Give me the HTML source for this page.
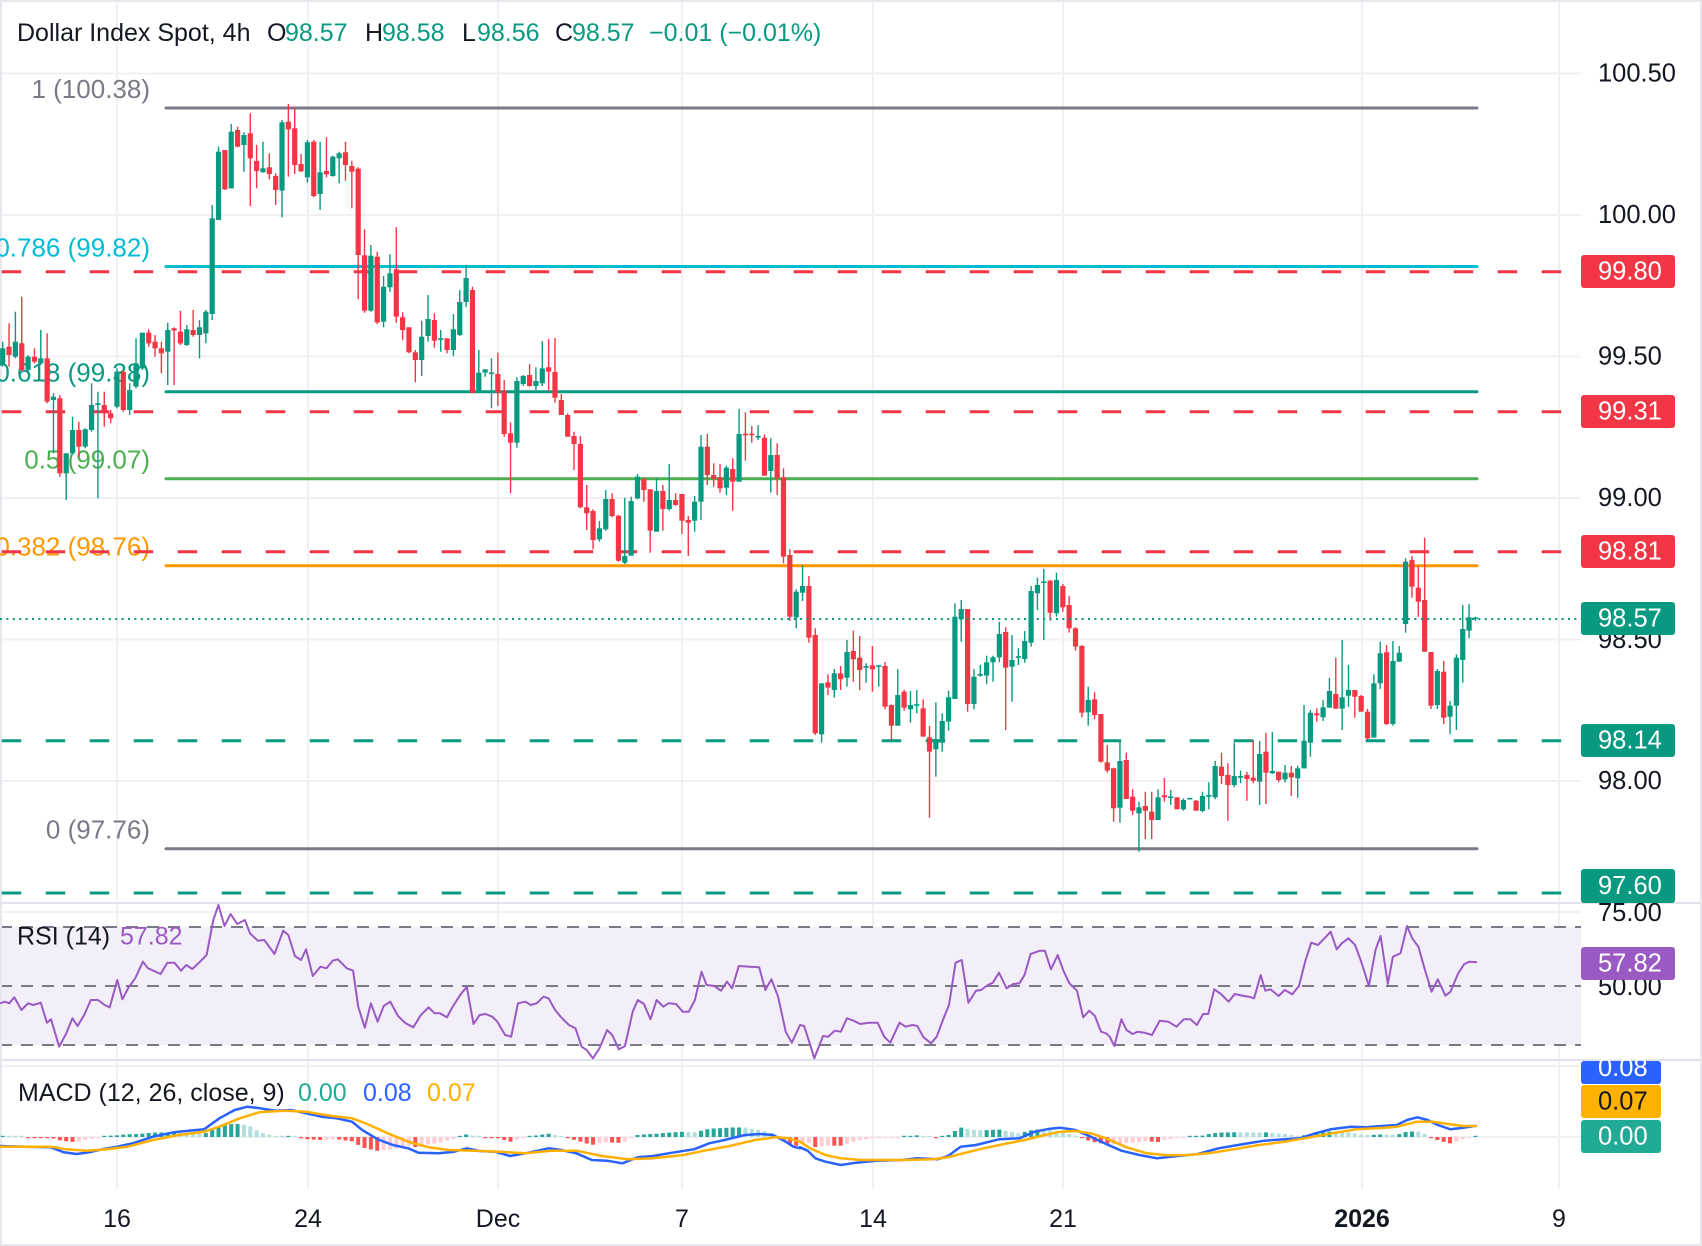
<!DOCTYPE html>
<html><head><meta charset="utf-8"><style>
html,body{margin:0;padding:0;background:#fff;}
svg{display:block;}
text{font-family:"Liberation Sans",Arial,sans-serif;}
</style></head><body>
<svg id="c" width="1702" height="1246" xmlns="http://www.w3.org/2000/svg">
<rect width="1702" height="1246" fill="#fff"/>
<g stroke="#f0f1f4" stroke-width="2">
<line x1="117" y1="0" x2="117" y2="1189"/><line x1="308" y1="0" x2="308" y2="1189"/>
<line x1="498" y1="0" x2="498" y2="1189"/><line x1="682" y1="0" x2="682" y2="1189"/>
<line x1="873" y1="0" x2="873" y2="1189"/><line x1="1063" y1="0" x2="1063" y2="1189"/>
<line x1="1362" y1="0" x2="1362" y2="1189"/><line x1="1559" y1="0" x2="1559" y2="1189"/>
<line x1="0" y1="73.5" x2="1581" y2="73.5"/><line x1="0" y1="215" x2="1581" y2="215"/>
<line x1="0" y1="356.5" x2="1581" y2="356.5"/><line x1="0" y1="498" x2="1581" y2="498"/>
<line x1="0" y1="639.5" x2="1581" y2="639.5"/><line x1="0" y1="781" x2="1581" y2="781"/>
<line x1="0" y1="912" x2="1581" y2="912"/><line x1="0" y1="1066" x2="1581" y2="1066"/>
<line x1="0" y1="1137" x2="1581" y2="1137"/>
</g>
<rect x="0" y="927" width="1581" height="118" fill="#f2eff9"/>
<g stroke="#787b86" stroke-width="2" stroke-dasharray="12 9">
<line x1="0" y1="927" x2="1581" y2="927"/><line x1="0" y1="986" x2="1581" y2="986"/><line x1="0" y1="1045" x2="1581" y2="1045"/>
</g>
<line x1="0" y1="903" x2="1702" y2="903" stroke="#e0e3eb" stroke-width="2"/>
<line x1="0" y1="1060" x2="1702" y2="1060" stroke="#e0e3eb" stroke-width="2"/>
<rect x="1" y="1" width="1700" height="1244" fill="none" stroke="#e6e8ee" stroke-width="2"/>

<!-- fib -->
<g font-size="26" text-anchor="end" dominant-baseline="central">
<text x="150" y="89" fill="#787b86">1 (100.38)</text>
<text x="150" y="247.5" fill="#00bcd4">0.786 (99.82)</text>
<text x="150" y="372.7" fill="#089981">0.618 (99.38)</text>
<text x="150" y="459.7" fill="#4caf50">0.5 (99.07)</text>
<text x="150" y="546.7" fill="#ff9800">0.382 (98.76)</text>
<text x="150" y="829.7" fill="#787b86">0 (97.76)</text>
</g>
<g stroke-width="3" stroke-linecap="round">
<line x1="166" y1="108" x2="1477" y2="108" stroke="#787b86"/>
<line x1="166" y1="266.5" x2="1477" y2="266.5" stroke="#00bcd4"/>
<line x1="166" y1="391.7" x2="1477" y2="391.7" stroke="#089981"/>
<line x1="166" y1="478.7" x2="1477" y2="478.7" stroke="#4caf50"/>
<line x1="166" y1="565.7" x2="1477" y2="565.7" stroke="#ff9800"/>
<line x1="166" y1="848.7" x2="1477" y2="848.7" stroke="#787b86"/>
</g>
<g stroke-width="3" stroke-dasharray="19.5 24.5">
<line x1="1.7" y1="271.7" x2="1581" y2="271.7" stroke="#f23645"/>
<line x1="1.7" y1="411.7" x2="1581" y2="411.7" stroke="#f23645"/>
<line x1="1.7" y1="551.7" x2="1581" y2="551.7" stroke="#f23645"/>
<line x1="1.7" y1="740.7" x2="1581" y2="740.7" stroke="#089981"/>
<line x1="1.7" y1="893" x2="1581" y2="893" stroke="#089981"/>
</g>
<g id="cg"></g>
<line x1="0" y1="619" x2="1581" y2="619" stroke="#089981" stroke-width="2" stroke-dasharray="2 4.4"/>

<polyline id="rsi" fill="none" stroke="#9b59c4" stroke-width="2" stroke-linejoin="round"/>
<g id="hist"></g>
<polyline id="mb" fill="none" stroke="#2962ff" stroke-width="2.5" stroke-linejoin="round"/>
<polyline id="mo" fill="none" stroke="#ffb000" stroke-width="2.5" stroke-linejoin="round"/>

<!-- axis labels -->
<g font-size="25.5" fill="#131722" dominant-baseline="central">
<text x="1598" y="73.5">100.50</text>
<text x="1598" y="215">100.00</text>
<text x="1598" y="356.5">99.50</text>
<text x="1598" y="498">99.00</text>
<text x="1598" y="640">98.50</text>
<text x="1598" y="781">98.00</text>
<text x="1598" y="913">75.00</text>
<text x="1598" y="987">50.00</text>
</g>
<g>
<rect x="1581" y="255" width="94" height="33" rx="3" fill="#f23645"/>
<rect x="1581" y="395" width="94" height="33" rx="3" fill="#f23645"/>
<rect x="1581" y="535" width="94" height="33" rx="3" fill="#f23645"/>
<rect x="1581" y="602" width="94" height="33" rx="3" fill="#089981"/>
<rect x="1581" y="724" width="94" height="33" rx="3" fill="#089981"/>
<rect x="1581" y="869" width="94" height="34" rx="3" fill="#089981"/>
<rect x="1581" y="947" width="94" height="33" rx="3" fill="#9b59c4"/>
<rect x="1581" y="1061" width="80" height="23" rx="3" fill="#2962ff"/>
<rect x="1581" y="1085" width="80" height="33" rx="3" fill="#ffb300"/>
<rect x="1581" y="1120" width="80" height="33" rx="3" fill="#22ab94"/>
</g>
<g font-size="25.5" fill="#fff" dominant-baseline="central">
<text x="1598" y="271.5">99.80</text>
<text x="1598" y="411.5">99.31</text>
<text x="1598" y="551.5">98.81</text>
<text x="1598" y="618.5">98.57</text>
<text x="1598" y="740.5">98.14</text>
<text x="1598" y="886">97.60</text>
<text x="1598" y="963.5">57.82</text>
<text x="1598" y="1068">0.08</text>
<text x="1598" y="1101.5" fill="#131722">0.07</text>
<text x="1598" y="1136.5">0.00</text>
</g>
<g font-size="25" fill="#131722" text-anchor="middle" dominant-baseline="central">
<text x="117" y="1219">16</text>
<text x="308" y="1219">24</text>
<text x="498" y="1219">Dec</text>
<text x="682" y="1219">7</text>
<text x="873" y="1219">14</text>
<text x="1063" y="1219">21</text>
<text x="1362" y="1219" font-weight="bold">2026</text>
<text x="1559" y="1219">9</text>
</g>
<g font-size="25" dominant-baseline="central">
<text x="17" y="33" fill="#131722">Dollar Index Spot, 4h</text>
<text x="267" y="33" fill="#131722">O</text><text x="285" y="33" fill="#089981">98.57</text>
<text x="365" y="33" fill="#131722">H</text><text x="382" y="33" fill="#089981">98.58</text>
<text x="462" y="33" fill="#131722">L</text><text x="477" y="33" fill="#089981">98.56</text>
<text x="555" y="33" fill="#131722">C</text><text x="572" y="33" fill="#089981">98.57</text>
<text x="649" y="33" fill="#089981">−0.01 (−0.01%)</text>
<text x="17" y="936.5" fill="#131722">RSI (14)</text>
<text x="120" y="936.5" fill="#9b59c4">57.82</text>
<text x="18" y="1093" fill="#131722">MACD (12, 26, close, 9)</text>
<text x="298" y="1093" fill="#22ab94">0.00</text>
<text x="363" y="1093" fill="#2962ff">0.08</text>
<text x="427" y="1093" fill="#ffb000">0.07</text>
</g>
</svg>
<script>
(function(){
function X(i){return 2.7+6.348*i;}
var segs=[
[90,0,[[1,775,825,755,830],[0,770,795,700,830],[1,755,800,665,805],[0,760,840,620,845],[1,800,840,795,845],[0,800,815,775,820],[1,805,820,720,825],[0,805,935,730,940],[1,920,930,910,1090],[0,925,1150,915,1160],[1,1090,1150,1090,1230],[1,1020,1090,980,1095],[0,1020,1070,995,1100],[1,1018,1070,1015,1075],[1,945,1020,880,1025],[1,940,945,905,1225],[0,945,970,905,1010],[0,970,985,960,1000],[1,845,950,835,955],[0,845,960,840,965],[1,900,960,880,975],[1,820,890,745,895],[1,728,835,728,840],[0,728,760,718,770],[0,755,775,735,800],[0,775,790,755,850],[1,720,785,698,885],[0,715,722,712,885],[0,725,760,662,765],[1,718,765,705,768],[0,720,735,660,740],[1,712,735,690,805],[1,665,730,660,760],[1,385,672,345,690],[1,185,390,170,390],[0,180,298,180,300],[1,125,295,102,295],[0,120,170,110,172],[1,135,165,127,245],[0,130,205,70,348],[0,213,243,165,295],[1,235,247,155,248],[0,232,252,190,268],[0,258,300,250,345],[1,97,302,90,382],[0,95,118,42,260],[0,115,225,55,252],[0,222,244,192,246],[1,157,262,150,278],[0,155,318,150,322],[1,247,312,155,360],[0,243,253,142,262],[1,200,258,197,260],[1,190,205,185,280],[0,187,225,155,272],[0,228,245,212,355],[0,236,495,232,628],[0,496,662,418,668],[1,497,662,465,665],[0,500,697,485,702],[1,590,695,558,712],[1,550,592,493,605],[0,538,680,412,698],[0,682,720,667,750],[0,712,787,712,790],[0,787,810,780,877]]],
[300,66,[[1,110,180,62,228],[1,57,108,-15,125],[0,60,122,40,143],[1,115,120,90,155],[0,115,150,115,160],[1,88,150,42,168],[1,6,105,-30,108],[1,-66,6,-105,21],[0,-30,278,-40,280],[1,218,278,150,278],[1,208,218,208,230],[1,218,222,175,325],[0,222,278,158,318],[0,272,402,240,410],[0,400,428,367,580],[1,243,428,232,443],[1,228,252,225,258],[0,225,258,192,260],[1,243,258,202,270],[1,205,250,123,258],[0,202,215,117,272],[0,216,293,114,308],[0,300,345,282,345],[0,345,410,340,410],[0,408,432,395,510],[0,432,622,408,625],[0,622,640,555,690],[0,633,720,628,748],[1,685,718,663,725],[1,597,688,570,692],[0,597,648,580,652],[0,647,782,645,785],[1,768,788,593,792],[1,603,767,590,767],[1,530,595,522,598],[0,538,570,532,605],[0,568,692,568,758],[1,573,695,535,695],[0,573,627,555,692],[1,600,627,492,632],[0,600,615,580,617],[0,582,662,582,702],[0,660,668,648,768],[1,605,662,588,695],[1,440,605,405,660],[0,440,525,402,555],[0,525,537,490,560],[0,532,565,492,578],[1,503,563,497,585],[0,507,545,475,632],[1,402,545,327,545],[0,402,405,337,482],[0,402,405,378,428],[1,408,412,375,420],[0,413,527,403,527],[1,465,513,415,578],[0,465,535,430,585],[0,532,770,505,790]]],
[540,124,[[0,45,230,28,243],[1,155,232,148,265],[1,138,158,75,183],[0,138,293,108,308],[0,285,580,265,585],[1,430,583,430,608],[0,427,443,403,465],[1,400,450,387,473],[0,400,418,378,450],[1,336,413,300,440],[0,333,358,272,425],[0,353,390,288,450],[1,378,383,370,428],[0,376,388,318,455],[1,376,380,376,440],[0,378,500,366,508],[0,495,557,493,603],[1,465,557,387,557],[0,455,503,449,512],[1,495,508,453,548],[1,493,497,450,520],[0,505,590,478,590],[0,592,635,558,833],[1,597,628,487,710],[1,543,608,520,635],[1,472,545,452,572],[1,230,477,190,477],[1,207,238,180,305],[0,207,492,207,515],[1,410,492,387,508],[1,402,407,375,410],[1,367,407,347,432],[1,352,367,347,425],[1,282,352,245,367],[0,276,383,262,570],[1,360,380,285,485],[1,350,352,325,375],[1,303,357,273,368],[1,153,308,138,320],[1,135,160,113,210],[1,125,128,87,300],[0,122,218,120,242],[1,120,220,98,230],[0,138,202,132,215],[0,195,265,168,278],[0,265,320,262,332],[0,318,518,315,532],[1,480,517,440,557],[0,478,525,457,537],[0,522,665,522,668],[0,667,692,615,698],[0,685,805,683,845],[1,663,803,603,848],[0,660,777,638,777],[0,770,812,748,825],[1,802,820,785,935],[0,798,812,755,898],[0,815,840,755,897],[1,772,840,748,840],[0,766,772,714,785],[1,770,773,750,795],[0,772,808,772,808],[1,780,808,775,812],[1,774,778,774,778],[0,782,812,780,812]]],
[520,189,[[1,828,873,815,877],[1,825,830,787,868],[1,738,832,723,838],[0,740,768,698,792],[0,765,795,730,902],[1,768,795,668,802],[1,768,773,752,790],[0,765,777,755,842],[0,773,782,660,790],[1,702,785,663,855],[0,695,758,638,852],[1,753,760,636,762],[0,755,780,755,787],[1,758,778,735,787],[0,758,772,738,828],[1,745,775,738,833],[1,662,745,555,745],[1,578,668,570,710],[0,580,586,565,605],[1,562,592,540,603],[1,513,563,473,563],[0,522,566,413,566],[1,532,566,360,630],[1,510,527,435,560],[0,510,530,510,593],[0,528,575,525,575],[0,575,655,567,660],[1,490,653,463,653],[1,400,490,365,507],[0,397,612,375,615],[1,423,612,363,617],[1,398,425,378,425],[1,125,312,115,338],[0,120,200,108,233],[0,203,245,138,290],[0,240,395,53,395],[0,396,557,396,567],[1,453,555,447,567],[0,455,593,423,613],[1,557,590,543,643],[1,413,557,403,630],[1,327,420,255,488],[1,292,332,252,355],[1,293,297,290,303]]]
];
var s='';
segs.forEach(function(sg){
  var y0=sg[0],st=sg[1];
  sg[2].forEach(function(c,k){
    var i=st+k,x=X(i),col=c[0]?'#089981':'#f23645';
    var bt=y0+c[1]/3,bb=y0+c[2]/3,wt=y0+c[3]/3,wb=y0+c[4]/3;
    var h=bb-bt; if(h<1.6){bt-=(1.6-h)/2;h=1.6;}
    s+='<line x1="'+x.toFixed(2)+'" y1="'+wt.toFixed(1)+'" x2="'+x.toFixed(2)+'" y2="'+wb.toFixed(1)+'" stroke="'+col+'" stroke-width="1.4"/>';
    s+='<rect x="'+(x-2.6).toFixed(2)+'" y="'+bt.toFixed(1)+'" width="5.2" height="'+h.toFixed(1)+'" fill="'+col+'"/>';
  });
});
document.getElementById('cg').innerHTML=s;

var sx=800/1568;
function P(a,x0){var r=[];for(var k=0;k<a.length;k+=2){r.push([x0+a[k]*sx,900+a[k+1]/3]);}return r;}
function str(p){return p.map(function(q){return q[0].toFixed(1)+','+q[1].toFixed(1);}).join(' ');}
var rsi8=[0,310,10,305,18,310,28,292,42,330,55,310,65,315,72,312,80,308,92,368,100,358,116,440,130,400,142,355,152,378,165,345,178,300,192,300,205,315,215,322,230,240,240,298,252,262,265,235,280,185,290,205,305,215,315,222,328,188,342,188,355,212,365,195,377,207,390,188,405,165,418,60,428,15,440,78,452,42,465,72,480,60,490,100,505,122,518,120,538,162,555,92,565,105,578,168,590,180,600,148,613,228,628,200,640,205,652,182,662,178,680,205,692,212,702,320,715,383,727,310,740,365,752,318,765,305,780,348,795,370,810,382,825,345,840,322,852,340,862,340,876,352,888,318,903,283,915,260,928,372,940,345,952,342,965,350,975,365,990,405,1002,410,1015,310,1030,305,1040,315,1052,310,1065,290,1075,295,1088,330,1100,352,1115,375,1128,385,1140,440,1150,450,1162,475,1175,445,1190,390,1200,405,1213,448,1225,438,1240,335,1250,300,1262,312,1275,358,1287,300,1300,320,1310,310,1325,312,1338,335,1350,335,1362,300,1375,215,1385,255,1400,258,1413,272,1425,245,1435,265,1448,198,1470,200,1488,202,1500,270,1512,238,1525,290,1540,395,1552,428,1565,385];
var rsi9=[0,375,8,378,18,425,28,475,45,408,55,410,68,392,80,395,92,355,105,362,118,372,135,368,152,368,165,410,177,428,195,368,207,380,220,375,230,378,242,412,257,430,268,410,280,360,292,315,305,188,317,180,330,308,345,272,355,270,368,255,378,248,390,218,405,265,418,252,430,250,440,225,452,162,470,152,480,152,492,208,505,165,517,215,528,250,543,272,555,352,567,332,578,348,590,395,600,400,607,410,616,438,630,358,640,390,652,402,662,395,675,398,690,405,705,362,722,365,738,380,752,358,765,358,778,375,790,342,800,342,812,268,825,282,840,305,852,282,870,288,880,290,890,295,903,225,912,272,922,268,938,288,950,270,965,283,978,258,990,185,1002,128,1015,135,1028,115,1040,95,1052,148,1062,130,1075,115,1088,135,1100,185,1115,258,1128,150,1138,108,1152,252,1162,170,1177,160,1190,78,1200,115,1212,140,1225,210,1238,275,1250,238,1265,287,1275,275,1290,220,1302,192,1312,185,1327,187];
document.getElementById('rsi').setAttribute('points',str(P(rsi8,0).concat(P(rsi9,800))));
var b8=[0,738,50,740,100,742,125,757,150,762,175,757,200,748,230,740,260,730,300,710,340,697,370,692,400,688,430,655,460,630,485,620,510,625,540,632,570,630,600,640,630,650,660,655,690,665,710,690,740,718,770,735,800,745,820,758,860,760,890,755,915,745,940,753,970,755,1000,768,1030,760,1075,745,1100,750,1130,760,1160,780,1190,782,1220,790,1250,772,1280,768,1310,760,1360,748,1390,730,1420,720,1460,705,1490,702,1515,705,1540,725,1555,740,1568,745];
var o8=[0,740,100,740,130,748,170,752,210,748,250,740,300,720,350,705,400,695,430,680,470,655,510,636,560,632,600,635,650,648,690,655,720,672,760,700,800,725,840,742,880,750,930,752,980,755,1030,760,1080,752,1130,752,1180,768,1230,778,1280,775,1340,765,1380,752,1430,738,1480,720,1520,712,1545,715,1568,725];
var b9=[0,742,15,752,30,775,50,785,80,795,110,788,150,782,200,780,230,775,270,778,290,768,315,740,345,735,390,718,430,715,460,695,490,686,510,683,540,690,570,710,600,732,630,752,665,765,700,775,740,768,780,762,820,745,870,732,910,722,950,718,980,715,1010,700,1040,688,1080,680,1110,682,1140,678,1170,675,1190,660,1210,652,1230,660,1250,675,1275,688,1300,683,1327,677];
var o9=[0,725,20,745,50,765,80,775,120,780,200,780,260,778,290,772,320,760,360,745,400,732,440,720,480,705,510,695,540,693,570,700,600,715,640,742,680,760,720,766,760,765,800,760,850,748,900,735,950,725,1000,712,1050,698,1090,688,1140,684,1170,680,1210,665,1240,665,1270,672,1300,678,1327,678];
var B=P(b8,0).concat(P(b9,800)),O=P(o8,0).concat(P(o9,800));
document.getElementById('mb').setAttribute('points',str(B));
document.getElementById('mo').setAttribute('points',str(O));
function ip(A,x){for(var k=0;k<A.length-1;k++){if(x>=A[k][0]&&x<=A[k+1][0]){var d=A[k+1][0]-A[k][0]||1;var t=(x-A[k][0])/d;return A[k][1]+t*(A[k+1][1]-A[k][1]);}}return A[A.length-1][1];}
var hs='',prev=0,Z=1137;
for(var i=0;i<233;i++){
  var x=X(i),v=(ip(O,x)-ip(B,x))*1.3,col;
  if(v>=0){col=(v>=prev)?'#26a69a':'#b2dfdb';}else{col=(v<=prev)?'#ff5252':'#ffcdd2';}
  var h=Math.max(Math.abs(v),1.2),y=v>=0?Z-h:Z;
  hs+='<rect x="'+(x-2).toFixed(2)+'" y="'+y.toFixed(1)+'" width="4" height="'+h.toFixed(1)+'" fill="'+col+'"/>';
  prev=v;
}
document.getElementById('hist').innerHTML=hs;
})();
</script>
</body></html>
